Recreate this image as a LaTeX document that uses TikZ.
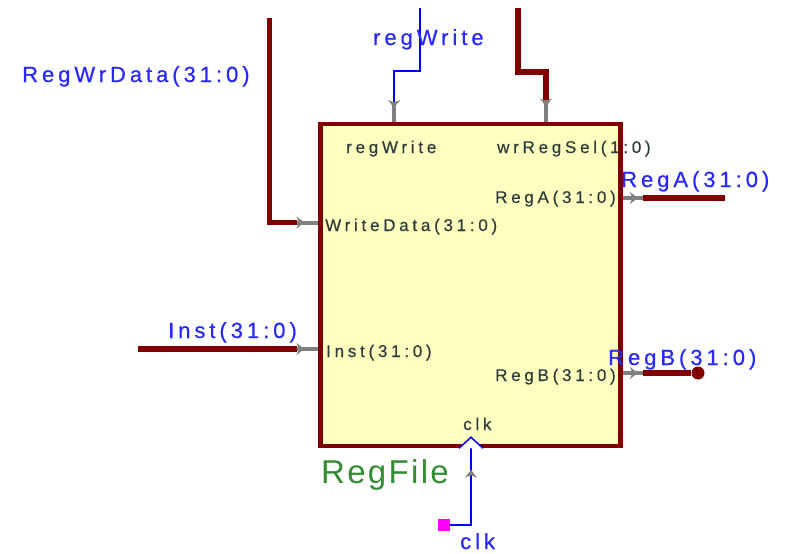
\documentclass[tikz,border=0pt]{standalone}
\usepackage{fontspec}
\setmainfont{Liberation Sans}
\newfontfamily\sigfont[LetterSpace=18,FakeBold=0.6]{Liberation Sans}
\newfontfamily\pinfont[LetterSpace=22,FakeBold=0.5]{Liberation Sans}
\newfontfamily\namefont[LetterSpace=7]{Liberation Sans}
\usetikzlibrary{arrows.meta,decorations.markings,positioning}

\definecolor{busred}{RGB}{128,0,0}
\definecolor{boxfill}{RGB}{255,255,192}
\definecolor{pingray}{RGB}{128,128,128}
\definecolor{siglabel}{RGB}{40,40,255}
\definecolor{pinlabel}{RGB}{45,60,60}
\definecolor{namegreen}{RGB}{50,140,50}
\definecolor{ctrlblue}{RGB}{0,0,255}
\definecolor{srcmagenta}{RGB}{255,0,255}

\tikzset{
  rf box/.style={rectangle, draw=busred, fill=boxfill, line width=4.5pt, minimum width=300pt, minimum height=322pt, inner sep=0pt},
  rf bus/.style={draw=busred, line width=5.5pt},
  rf ctrl/.style={draw=ctrlblue, line width=1.8pt},
  pin mark/.style={postaction={decorate}, decoration={markings, mark=at position #1 with {\arrow{Stealth[length=8pt,width=12pt,color=pingray]}}}},
  rf pin/.style={draw=pingray, line width=4pt, pin mark=#1},
  rf pin/.default=0.35,
  sig label/.style={inner sep=0pt, anchor=base west, text=siglabel, font=\sigfont\fontsize{22}{26}\selectfont},
  pin label/.style={inner sep=0pt, anchor=base west, text=pinlabel, font=\pinfont\fontsize{17}{20}\selectfont},
  rf name/.style={inner sep=0pt, anchor=base west, text=namegreen, font=\namefont\fontsize{33}{39}\selectfont},
  clk tri/.style={draw=ctrlblue, fill=white, line width=1.5pt, line join=miter},
  clk src/.style={rectangle, fill=srcmagenta, minimum size=12pt, inner sep=0pt},
  bus end/.style={circle, fill=busred, minimum size=13pt, inner sep=0pt},
}

\begin{document}
\begin{tikzpicture}[x=1pt, y=-1pt]
  \useasboundingbox (0,0) rectangle (787,554);
  \node (rf) [rf box] at (470.5,285) {};

  \coordinate (wdtop) at (269.5,18);
  \coordinate (wdpin) at (297,222.5);
  \coordinate (wdport) at (rf.west |- wdpin);
  \coordinate (inbeg) at (138,349);
  \coordinate (inpin) at (297,349);
  \coordinate (inport) at (rf.west |- inpin);
  \coordinate (rwtop) at (420,8);
  \coordinate (rwpin) at (394,102);
  \coordinate (rwport) at (rf.north -| rwpin);
  \coordinate (rstop) at (518,8);
  \coordinate (rspin) at (546,100);
  \coordinate (rsport) at (rf.north -| rspin);
  \coordinate (rapin) at (643,198);
  \coordinate (raport) at (rf.east |- rapin);
  \coordinate (raend) at (725,198);
  \coordinate (rbpin) at (643,373);
  \coordinate (rbport) at (rf.east |- rbpin);
  \coordinate (clkport) at (rf.south -| 471,0);
  \node (rbend) [bus end] at (698,373) {};
  \node (clksrc) [clk src] at (444,525) {};

  \draw[rf bus] (wdtop) |- (wdpin);
  \draw[rf pin] (wdpin) -- (wdport);
  \draw[rf bus] (inbeg) -- (inpin);
  \draw[rf pin] (inpin) -- (inport);
  \draw[rf ctrl] (rwtop) -- ++(0,63) -| (rwpin);
  \draw[rf pin=0.3] (rwpin) -- (rwport);
  \draw[rf bus] (rstop) -- ++(0,64) -| (rspin);
  \draw[rf pin=0.3] (rspin) -- (rsport);
  \draw[rf pin=0.75] (raport) -- (rapin);
  \draw[rf bus] (rapin) -- (raend);
  \draw[rf pin=0.75] (rbport) -- (rbpin);
  \draw[rf bus] (rbpin) -- (rbend);
  \draw[rf ctrl, pin mark=0.78] (clksrc) -| (clkport);
  \draw[clk tri] (clkport) ++(-12,0) -- ++(12,-11) -- ++(12,11);

  \node (rwinlbl) [pin label] at (346,153) {regWrite};
  \node (rsinlbl) [pin label] at (497,153) {wrRegSel(1:0)};
  \node (rainlbl) [pin label] at (495,203) {RegA(31:0)};
  \node (wdinlbl) [pin label] at (325,231) {WriteData(31:0)};
  \node (ininlbl) [pin label] at (326,357) {Inst(31:0)};
  \node (rbinlbl) [pin label] at (495,381) {RegB(31:0)};
  \node (clkinlbl) [pin label] at (463,430) {clk};

  \node (wdlbl) [sig label] at (22,82) {RegWrData(31:0)};
  \node (rwlbl) [sig label] at (373,45) {regWrite};
  \node (inlbl) [sig label] at (168,338) {Inst(31:0)};
  \node (ralbl) [sig label] at (621,187) {RegA(31:0)};
  \node (rblbl) [sig label] at (608,365) {RegB(31:0)};
  \node (clklbl) [sig label] at (460,549) {clk};
  \node (rfname) [rf name] at (321,483) {RegFile};
\end{tikzpicture}
\end{document}
